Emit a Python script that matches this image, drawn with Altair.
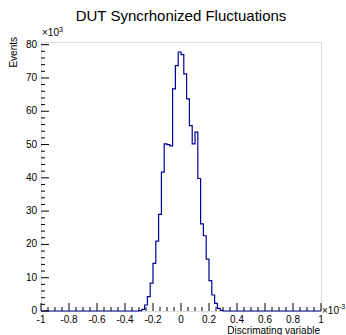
import altair as alt
import pandas as pd

# Histogram: 100 bins of width 0.02 (x10^-3) on [-1, 1]; counts in units of 10^3
bin_width = 0.02
counts = [
    0, 0, 0, 0, 0, 0, 0, 0, 0, 0,
    0, 0, 0, 0, 0, 0, 0, 0, 0, 0,
    0, 0, 0, 0, 0, 0, 0, 0, 0, 0,
    0, 0, 0, 0, 0, 0.1, 0.5, 1.8, 4.3, 8.4,
    14.3, 21.0, 29.0, 41.7, 50.2, 50.0, 49.6, 66.7, 73.7, 77.8,
    77.0, 71.2, 63.7, 55.7, 50.2, 53.7, 39.8, 26.2, 22.6, 15.6,
    9.1, 4.8, 2.3, 0.8, 0.2, 0, 0, 0, 0, 0,
    0, 0, 0, 0, 0, 0, 0, 0, 0, 0,
    0, 0, 0, 0, 0, 0, 0, 0, 0, 0,
    0, 0, 0, 0, 0, 0, 0, 0, 0, 0,
]

x_major = [-1.0, -0.8, -0.6, -0.4, -0.2, 0.0, 0.2, 0.4, 0.6, 0.8, 1.0]
x_minor = [-0.95, -0.9, -0.85, -0.75, -0.7, -0.65, -0.55, -0.5, -0.45,
           -0.35, -0.3, -0.25, -0.15, -0.1, -0.05, 0.05, 0.1, 0.15,
           0.25, 0.3, 0.35, 0.45, 0.5, 0.55, 0.65, 0.7, 0.75, 0.85, 0.9, 0.95]
x_labels = ["-1", "-0.8", "-0.6", "-0.4", "-0.2", "0", "0.2", "0.4", "0.6", "0.8", "1"]
y_major = [0, 10, 20, 30, 40, 50, 60, 70, 80]
y_minor = [2, 4, 6, 8, 12, 14, 16, 18, 22, 24, 26, 28, 32, 34, 36, 38,
           42, 44, 46, 48, 52, 54, 56, 58, 62, 64, 66, 68, 72, 74, 76, 78]
y_labels = ["0", "10", "20", "30", "40", "50", "60", "70", "80"]

x_domain = [-1, 1]
y_domain = [0, 80.8]

W, H = 280, 269
FONT = "Liberation Sans"
LINE = "#000099"

edges = [-1 + bin_width * i for i in range(len(counts) + 1)]
hist = pd.DataFrame({"x": edges, "y": counts + [counts[-1]]})

xs = alt.Scale(domain=x_domain, nice=False, zero=False)
ys = alt.Scale(domain=y_domain, nice=False, zero=False)

hist_layer = alt.Chart(hist).mark_line(
    interpolate="step-after", color=LINE, strokeWidth=1.2
).encode(
    x=alt.X("x:Q", scale=xs, axis=None),
    y=alt.Y("y:Q", scale=ys, axis=None),
)

xmaj = alt.Chart(pd.DataFrame({"v": x_major})).mark_rule(color="black", strokeWidth=1).encode(
    x=alt.X("v:Q", scale=xs, axis=None), y=alt.value(H), y2=alt.value(H - 8))
xmin = alt.Chart(pd.DataFrame({"v": x_minor})).mark_rule(color="black", strokeWidth=1).encode(
    x=alt.X("v:Q", scale=xs, axis=None), y=alt.value(H), y2=alt.value(H - 4))
ymaj = alt.Chart(pd.DataFrame({"v": y_major})).mark_rule(color="black", strokeWidth=1).encode(
    y=alt.Y("v:Q", scale=ys, axis=None), x=alt.value(0), x2=alt.value(8))
ymin = alt.Chart(pd.DataFrame({"v": y_minor})).mark_rule(color="black", strokeWidth=1).encode(
    y=alt.Y("v:Q", scale=ys, axis=None), x=alt.value(0), x2=alt.value(4))

# tick labels drawn through the scales
xlab = alt.Chart(pd.DataFrame({"v": x_major, "t": x_labels})).mark_text(
    font=FONT, fontSize=10, align="center", baseline="top", color="black"
).encode(x=alt.X("v:Q", scale=xs, axis=None), y=alt.value(H + 4), text="t:N")
ylab = alt.Chart(pd.DataFrame({"v": y_major, "t": y_labels})).mark_text(
    font=FONT, fontSize=10, align="right", baseline="middle", color="black"
).encode(y=alt.Y("v:Q", scale=ys, axis=None), x=alt.value(-4), text="t:N")

def label(text, x, y, size=10, align="left", angle=0):
    kw = dict(text=text, font=FONT, fontSize=size, align=align,
              baseline="alphabetic", color="black")
    if angle:
        kw["angle"] = angle
    return alt.Chart(pd.DataFrame({"t": [text]})).mark_text(**kw).encode(
        x=alt.value(x), y=alt.value(y))

texts = [
    label("DUT Syncrhonized Fluctuations", W / 2, -21, size=15, align="center"),
    label("Events", -24, -5, size=10, align="right", angle=270),
    label("Discrimating variable", W - 1, 292, size=10, align="right"),
    label("\u00d710", 1, -6, size=10),
    label("3", 18, -10, size=7),
    label("\u00d710", 281, 272, size=10),
    label("-3", 298, 267, size=7),
]

chart = alt.layer(hist_layer, xmaj, xmin, ymaj, ymin, xlab, ylab, *texts).properties(
    width=W, height=H,
    autosize=alt.AutoSizeParams(type="none"),
    padding={"left": 41, "top": 42, "right": 25, "bottom": 24},
).configure_view(stroke="black", strokeWidth=1).configure(background="white")

chart.save("out.html", embed_options={"renderer": "svg", "actions": False})
